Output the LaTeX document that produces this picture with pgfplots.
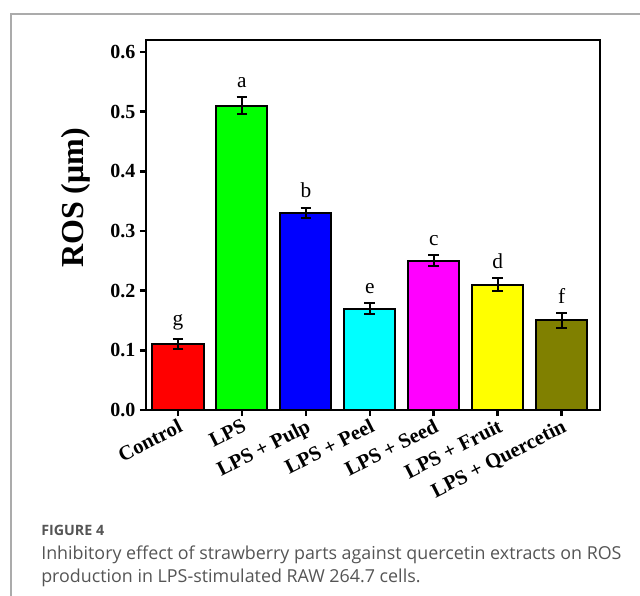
\documentclass[border=0pt]{standalone}
\usepackage{pgfplots}
\pgfplotsset{compat=1.18}
\usepackage{fontspec}
\setmainfont{Liberation Serif}
\newfontfamily\capfont{Open Sans}
\definecolor{capgray}{HTML}{555555}
\definecolor{framegray}{HTML}{ABABAB}
\definecolor{redbar}{HTML}{FF0000}
\definecolor{greenbar}{HTML}{00FF00}
\definecolor{bluebar}{HTML}{0000FF}
\definecolor{cyanbar}{HTML}{00FFFF}
\definecolor{magentabar}{HTML}{FF00FF}
\definecolor{yellowbar}{HTML}{FFFF00}
\definecolor{olivebar}{HTML}{808000}

\pgfplotsset{
  rosbar/.style={ybar, bar width=0.8, bar shift=0pt, draw=black, line width=1.5pt,
    error bars/y dir=both, error bars/y explicit,
    error bars/error bar style={line width=1.5pt, black},
    error bars/error mark options={rotate=90, mark size=4pt, line width=1.5pt, black}},
}

\begin{document}
\begin{tikzpicture}
\useasboundingbox (0,0) rectangle (480pt,-447pt);
% outer frame (top and left edges only)
\draw[framegray, line width=1.1pt] (8.25pt,-447pt) -- (8.25pt,-10.5pt) -- (480pt,-10.5pt);

\begin{axis}[
  at={(109.5pt,-307.5pt)}, anchor=south west,
  scale only axis, width=340.5pt, height=277.5pt,
  xmin=-0.5, xmax=6.6, ymin=0, ymax=0.62,
  axis line style={line width=1.9pt},
  tick style={line width=1.9pt, black},
  tick align=outside, tick pos=left, major tick length=4.5pt,
  xtick={0,1,2,3,4,5,6},
  xticklabels={Control,LPS,LPS + Pulp,LPS + Peel,LPS + Seed,LPS + Fruit,LPS + Quercetin},
  xticklabel style={font=\fontsize{15.5}{15.5}\selectfont\bfseries, rotate=27, anchor=north east, inner sep=1pt},
  ytick={0,0.1,0.2,0.3,0.4,0.5,0.6},
  yticklabels={0.0,0.1,0.2,0.3,0.4,0.5,0.6},
  yticklabel style={font=\fontsize{15}{15}\selectfont\bfseries},
  ylabel={ROS (μm)},
  ylabel style={font=\fontsize{24}{24}\selectfont\bfseries, at={(axis description cs:-0.154,0.573)}, anchor=center},
  clip=false,
]
\addplot[rosbar, fill=redbar] coordinates {(0,0.11) +- (0,0.0085)};
\addplot[rosbar, fill=greenbar] coordinates {(1,0.51) +- (0,0.014)};
\addplot[rosbar, fill=bluebar] coordinates {(2,0.33) +- (0,0.009)};
\addplot[rosbar, fill=cyanbar] coordinates {(3,0.17) +- (0,0.009)};
\addplot[rosbar, fill=magentabar] coordinates {(4,0.25) +- (0,0.009)};
\addplot[rosbar, fill=yellowbar] coordinates {(5,0.21) +- (0,0.011)};
\addplot[rosbar, fill=olivebar] coordinates {(6,0.15) +- (0,0.013)};
\begin{scope}[every node/.style={anchor=south, inner sep=0pt, yshift=7pt, font=\fontsize{16}{16}\selectfont}]
\node at (axis cs:0,0.1185) {g};
\node at (axis cs:1,0.524) {a};
\node at (axis cs:2,0.339) {b};
\node at (axis cs:3,0.179) {e};
\node at (axis cs:4,0.259) {c};
\node at (axis cs:5,0.221) {d};
\node at (axis cs:6,0.163) {f};
\end{scope}
\end{axis}

% caption
\node[anchor=base west, inner sep=0pt, text=capgray, font=\capfont\bfseries\fontsize{10.7}{10.7}\selectfont] at (30.75pt,-401.25pt) {FIGURE 4};
\node[anchor=base west, inner sep=0pt, text=capgray, font=\capfont\fontsize{13.4}{13.4}\selectfont] at (30.75pt,-419.25pt) {Inhibitory effect of strawberry parts against quercetin extracts on ROS};
\node[anchor=base west, inner sep=0pt, text=capgray, font=\capfont\fontsize{13.4}{13.4}\selectfont] at (30.75pt,-436.5pt) {production in LPS-stimulated RAW 264.7 cells.};
\end{tikzpicture}
\end{document}
